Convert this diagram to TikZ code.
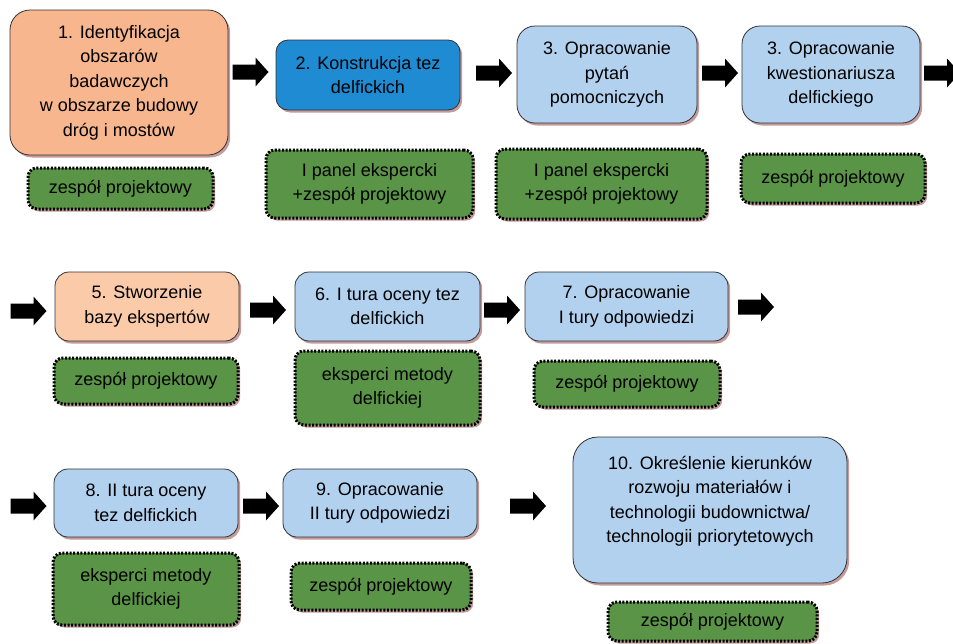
\documentclass[tikz,border=0pt]{standalone}
\usepackage{fontspec}
\setmainfont{Liberation Sans}
\usetikzlibrary{shadows}
\definecolor{salmon}{HTML}{F8B68F}
\definecolor{deepblue}{HTML}{1E8BD2}
\definecolor{lightblue}{HTML}{B1D1EE}
\definecolor{peach}{HTML}{FBCBA9}
\definecolor{grn}{HTML}{5A9446}
\definecolor{shade}{HTML}{C49A9A}
\tikzset{
  x=1pt, y=-1pt,
  txt/.style={font=\fontsize{18pt}{24.5pt}\selectfont, align=center, text=black},
  box/.style={txt, draw=black!80, line width=0.8pt, rounded corners=14pt, inner sep=0pt,
    drop shadow={shadow xshift=2.2pt, shadow yshift=-2.5pt, fill=shade, opacity=1}},
  team/.style={txt, draw=black, line width=3pt, dash pattern=on 2pt off 1.6pt,
    fill=grn, rounded corners=9pt, inner sep=0pt,
    drop shadow={shadow xshift=2.2pt, shadow yshift=-2.5pt, fill=shade, opacity=1}},
  blockarrow/.pic={\fill[black] (-18,-7.5) -- (5,-7.5) -- (5,-14.5) -- (18,0) -- (5,14.5) -- (5,7.5) -- (-18,7.5) -- cycle;}
}
\begin{document}
\begin{tikzpicture}
\useasboundingbox (0,0) rectangle (953,643);
% Row 1
\node[box, fill=salmon, rounded corners=20pt, minimum width=218pt, minimum height=145pt] (b1) at (119,82.5)
  {1. Identyfikacja\\obszarów\\badawczych\\w obszarze budowy\\dróg i mostów};
\node[team, minimum width=185pt, minimum height=41pt] (g1) at (120.5,188.5) {zespół projektowy};
\pic (a1) at (250.5,72) {blockarrow};
\node[box, fill=deepblue, rounded corners=12pt, minimum width=184pt, minimum height=70pt] (b2) at (368,75)
  {2. Konstrukcja tez\\delfickich};
\node[team, minimum width=207pt, minimum height=68pt] (g2) at (369.5,184) {I panel ekspercki\\+zespół projektowy};
\pic (a2) at (494,73) {blockarrow};
\node[box, fill=lightblue, rounded corners=18pt, minimum width=180pt, minimum height=97pt] (b3) at (607,74.5)
  {3. Opracowanie\\pytań\\pomocniczych};
\node[team, minimum width=211pt, minimum height=70pt] (g3) at (601.5,184) {I panel ekspercki\\+zespół projektowy};
\pic (a3) at (720,73) {blockarrow};
\node[box, fill=lightblue, rounded corners=18pt, minimum width=178pt, minimum height=97pt] (b4) at (831,74.5)
  {3. Opracowanie\\kwestionariusza\\delfickiego};
\node[team, minimum width=184pt, minimum height=49pt] (g4) at (833,178.5) {zespół projektowy};
\pic (a4) at (942,73) {blockarrow};
% Row 2
\pic (a5) at (28.5,311) {blockarrow};
\node[box, fill=peach, minimum width=184pt, minimum height=69pt] (b5) at (147,306.5)
  {5. Stworzenie\\bazy ekspertów};
\node[team, minimum width=184pt, minimum height=46pt] (g5) at (146,381) {zespół projektowy};
\pic (a6) at (268,310) {blockarrow};
\node[box, fill=lightblue, minimum width=185pt, minimum height=69pt] (b6) at (387.5,306.5)
  {6. I tura oceny tez\\delfickich};
\node[team, minimum width=185pt, minimum height=74pt] (g6) at (387.5,388) {eksperci metody\\delfickiej};
\pic (a7) at (502,310) {blockarrow};
\node[box, fill=lightblue, minimum width=203pt, minimum height=69pt] (b7) at (626.5,306.5)
  {7. Opracowanie\\I tury odpowiedzi};
\node[team, minimum width=186pt, minimum height=46pt] (g7) at (627,384) {zespół projektowy};
\pic (a8) at (756,307) {blockarrow};
% Row 3
\pic (a9) at (28.5,506) {blockarrow};
\node[box, fill=lightblue, minimum width=184pt, minimum height=68pt] (b8) at (146,503)
  {8. II tura oceny\\tez delfickich};
\node[team, minimum width=186pt, minimum height=72pt] (g8) at (146,589) {eksperci metody\\delfickiej};
\pic (a10) at (261,506) {blockarrow};
\node[box, fill=lightblue, minimum width=194pt, minimum height=68pt] (b9) at (380,503)
  {9. Opracowanie\\II tury odpowiedzi};
\node[team, minimum width=180pt, minimum height=47pt] (g9) at (381,586.5) {zespół projektowy};
\pic (a11) at (528,506) {blockarrow};
\node[box, fill=lightblue, rounded corners=25pt, minimum width=274pt, minimum height=146pt] (b10) at (710,510) {};
\node[txt] (t10) at (710,501)
  {10. Określenie kierunków\\rozwoju materiałów i\\technologii budownictwa/\\technologii priorytetowych};
\node[team, minimum width=209pt, minimum height=39pt] (g10) at (712.5,621.5) {zespół projektowy};
\end{tikzpicture}
\end{document}
